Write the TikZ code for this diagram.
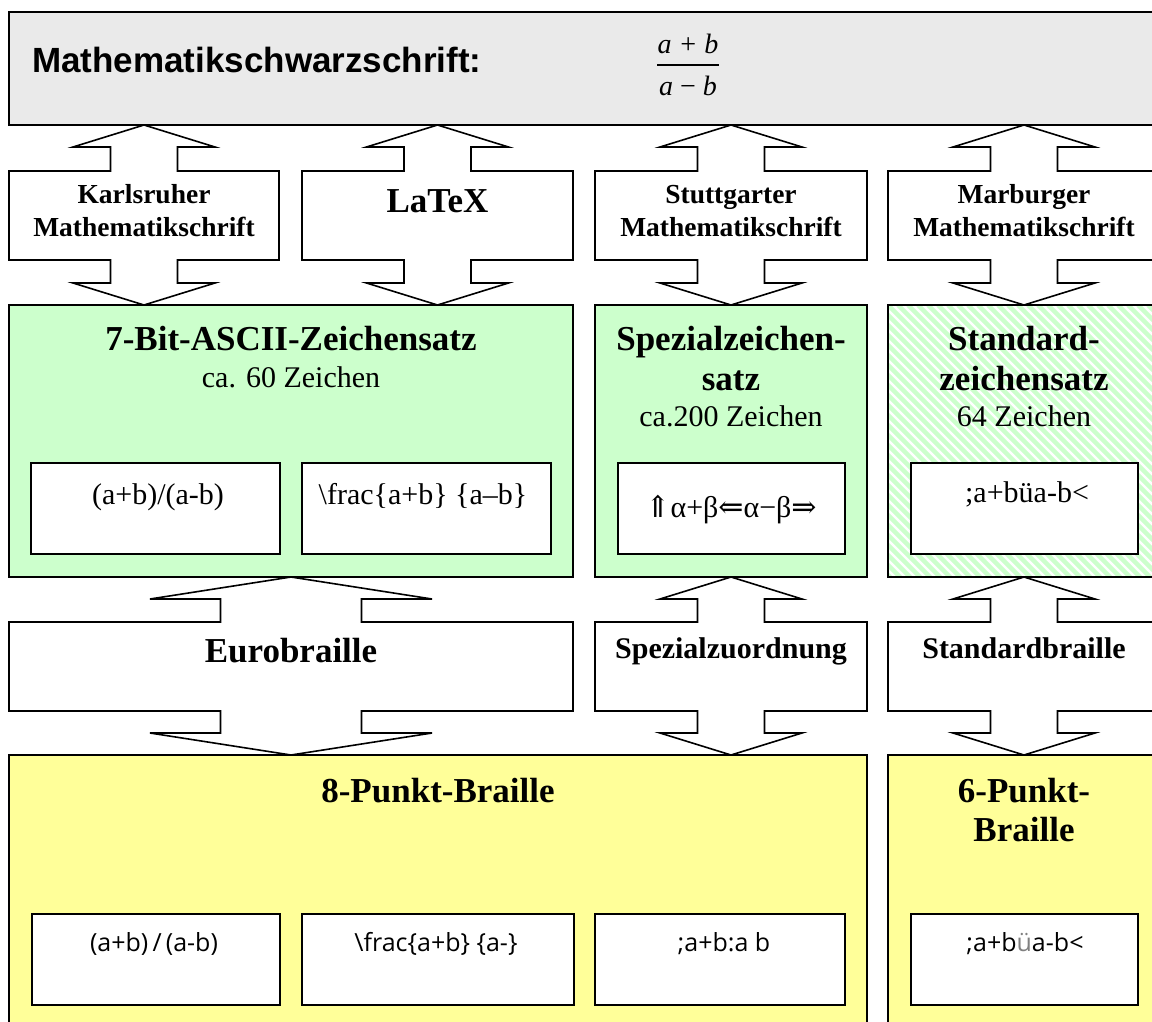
\documentclass[tikz,border=0pt]{standalone}
\usepackage{fontspec}
\setmainfont{Liberation Serif}
\setsansfont{Liberation Sans}
\newfontfamily\brlfont{Open Sans}
\newfontfamily\arrfont{DejaVu Serif}
\usepackage{tikz}
\usetikzlibrary{calc, backgrounds, positioning}
\definecolor{hdrgray}{RGB}{234,234,234}
\definecolor{setgreen}{RGB}{204,255,204}
\definecolor{brlyellow}{RGB}{255,255,153}
% Doppelpfeil mit Kasten: Mitte, oberer Kasten, unterer Kasten, halbe Spitzenbreite, halbe Schaftbreite
\newcommand{\dblarrow}[5]{%
  \draw[arrowline] let \p1=(#1.center), \p2=(#1.north west), \p3=(#1.south east),
      \p4=(#2.south), \p5=(#3.north) in
    (\x1,\y4) -- (\x1+#4,\y4-22pt) -- (\x1+#5,\y4-22pt) -- (\x1+#5,\y2)
    -- (\x3,\y2) -- (\x3,\y3) -- (\x1+#5,\y3) -- (\x1+#5,\y5+22pt)
    -- (\x1+#4,\y5+22pt) -- (\x1,\y5) -- (\x1-#4,\y5+22pt) -- (\x1-#5,\y5+22pt)
    -- (\x1-#5,\y3) -- (\x2,\y3) -- (\x2,\y2) -- (\x1-#5,\y2)
    -- (\x1-#5,\y4-22pt) -- (\x1-#4,\y4-22pt) -- cycle;}

\begin{document}
\begin{tikzpicture}[x=1pt, y=-1pt,
  frame/.style={draw, line width=1.6pt, inner sep=0pt, outer sep=0pt, anchor=north west},
  hole/.style={inner sep=0pt, outer sep=0pt, anchor=north west},
  arrowline/.style={draw, fill=white, line width=1.6pt, line join=miter},
  ttl/.style={font=\fontsize{35}{40}\selectfont\bfseries, inner sep=0pt, anchor=base},
  lbl/.style={font=\fontsize{27.5}{32}\selectfont\bfseries, inner sep=0pt, anchor=base},
  lblm/.style={font=\fontsize{30}{34}\selectfont\bfseries, inner sep=0pt, anchor=base},
  cnt/.style={font=\fontsize{30}{34}\selectfont, inner sep=0pt, anchor=base},
  brl/.style={font=\brlfont\fontsize{25}{30}\selectfont, inner sep=0pt, anchor=base}]
\useasboundingbox (0,0) rectangle (1152,1021);
\clip (0,0) rectangle (1152,1021);

% Schwarzschrift
\node[frame, fill=hdrgray, minimum width=1170pt, minimum height=113pt] (head) at (9,12) {};
\node[font=\fontsize{35}{40}\selectfont\sffamily\bfseries, inner sep=0pt, anchor=base west] (headT) at (32,72) {Mathematikschwarzschrift:};
\node[cnt, font=\fontsize{28}{32}\selectfont\itshape] (num) at (688,53) {a + b};
\node[cnt, font=\fontsize{28}{32}\selectfont\itshape] (den) at (688,95) {a {\upshape −} b};
\draw[line width=1.3pt] (657,65) -- (719,65);

% Schriften (obere Pfeile)
\node[hole, minimum width=270pt, minimum height=89pt] (karls) at (9,171) {};
\node[hole, minimum width=271pt, minimum height=89pt] (latex) at (302,171) {};
\node[hole, minimum width=272pt, minimum height=89pt] (stutt) at (595,171) {};
\node[hole, minimum width=272pt, minimum height=89pt] (marb) at (888,171) {};
\node[lbl] (karlsA) at (144,203) {Karlsruher};
\node[lbl] (karlsB) at (144,236) {Mathematikschrift};
\node[ttl] (latexT) at (437.5,212) {LaTeX};
\node[lbl] (stuttA) at (731,203) {Stuttgarter};
\node[lbl] (stuttB) at (731,236) {Mathematikschrift};
\node[lbl] (marbA) at (1024,203) {Marburger};
\node[lbl] (marbB) at (1024,236) {Mathematikschrift};

% Zeichensaetze
\node[frame, fill=setgreen, minimum width=564pt, minimum height=272pt] (bit7) at (9,305) {};
\node[frame, fill=setgreen, minimum width=272pt, minimum height=272pt] (spz) at (595,305) {};
\node[frame, minimum width=272pt, minimum height=272pt] (std) at (888,305) {};
\node[ttl] (bit7A) at (291,350) {7-Bit-ASCII-Zeichensatz};
\node[cnt] (bit7B) at (291,387) {ca. 60 Zeichen};
\node[ttl] (spzA) at (731,350) {Spezialzeichen-};
\node[ttl] (spzB) at (731,390) {satz};
\node[cnt] (spzC) at (731,426) {ca.200 Zeichen};
\node[ttl] (stdA) at (1024,350) {Standard-};
\node[ttl] (stdB) at (1024,390) {zeichensatz};
\node[cnt] (stdC) at (1024,426) {64 Zeichen};

\node[frame, fill=white, minimum width=249pt, minimum height=91pt] (asc1) at (31,463) {};
\node[frame, fill=white, minimum width=249pt, minimum height=91pt] (asc2) at (302,463) {};
\node[frame, fill=white, minimum width=227pt, minimum height=91pt] (spzin) at (618,463) {};
\node[frame, fill=white, minimum width=227pt, minimum height=91pt] (stdin) at (911,463) {};
\node[cnt] (asc1T) at (158,504) {(a+b)/(a-b)};
\node[cnt] (asc2T) at (423,504) {\textbackslash frac\{a+b\} \{a–b\}};
\node[cnt] (spzinT) at (731,517) {{\arrfont ⇑}α+β{\arrfont ⇐}α−β{\arrfont ⇒}};
\node[cnt] (stdinT) at (1027,502) {;a+büa-b<};

% Uebertragungen (untere Pfeile)
\node[hole, minimum width=564pt, minimum height=89pt] (euro) at (9,622) {};
\node[hole, minimum width=272pt, minimum height=89pt] (spzu) at (595,622) {};
\node[hole, minimum width=272pt, minimum height=89pt] (stdb) at (888,622) {};
\node[ttl] (euroT) at (291,662) {Eurobraille};
\node[lblm] (spzuT) at (731,658) {Spezialzuordnung};
\node[lblm] (stdbT) at (1024,658) {Standardbraille};

% Braille
\node[frame, fill=brlyellow, minimum width=858pt, minimum height=300pt] (p8) at (9,755) {};
\node[frame, fill=brlyellow, minimum width=272pt, minimum height=300pt] (p6) at (888,755) {};
\node[ttl] (p8T) at (438,802) {8-Punkt-Braille};
\node[ttl] (p6A) at (1024,802) {6-Punkt-};
\node[ttl] (p6B) at (1024,841) {Braille};

\node[frame, fill=white, minimum width=248pt, minimum height=91pt] (p8in1) at (32,914) {};
\node[frame, fill=white, minimum width=272pt, minimum height=91pt] (p8in2) at (302,914) {};
\node[frame, fill=white, minimum width=250pt, minimum height=91pt] (p8in3) at (595,914) {};
\node[frame, fill=white, minimum width=227pt, minimum height=91pt] (p6in) at (911,914) {};
\node[brl] (p8in1T) at (154,951) {(a+b)\,/\,(a-b)};
\node[brl] (p8in2T) at (436,951) {\textbackslash frac\{a+b\} \{a-\}};
\node[brl] (p8in3T) at (724,951) {;a+b:a b};
\node[brl] (p6inT) at (1025,951) {;a+b\textcolor{gray}{ü}a-b<};

\begin{scope}[on background layer]
  \fill[white] (0,0) rectangle (1152,1021);
  \begin{scope}
    \clip (std.north west) rectangle (std.south east);
    \foreach \k in {-28,...,28}
      \draw[setgreen, line width=4.5pt] ($(std.north west)+(\k*10,0)$) -- ++(300,300);
  \end{scope}
  \dblarrow{karls}{head}{bit7}{71pt}{33.5pt}
  \dblarrow{latex}{head}{bit7}{71pt}{33.5pt}
  \dblarrow{stutt}{head}{spz}{71pt}{33.5pt}
  \dblarrow{marb}{head}{std}{71pt}{33.5pt}
  \dblarrow{euro}{bit7}{p8}{141pt}{70.5pt}
  \dblarrow{spzu}{spz}{p8}{71pt}{33.5pt}
  \dblarrow{stdb}{std}{p6}{71pt}{33.5pt}
\end{scope}
\end{tikzpicture}
\end{document}
